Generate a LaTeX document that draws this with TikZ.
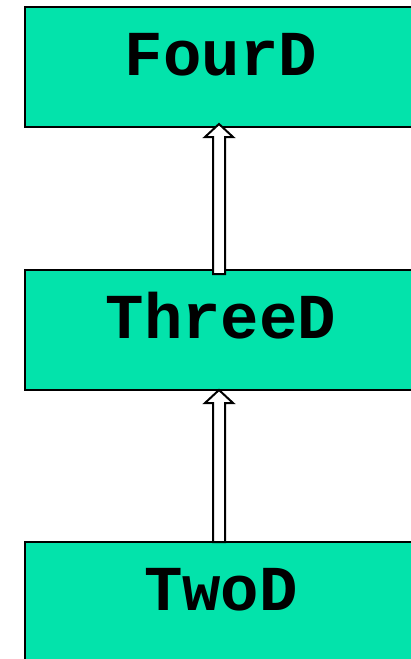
\documentclass[tikz,border=0pt]{standalone}
\usepackage{fontspec}
\setmonofont{Liberation Mono}
\usetikzlibrary{calc}
\definecolor{boxgreen}{RGB}{3,227,171}
\tikzset{
  classbox/.style={draw=black, line width=2pt, fill=boxgreen, rectangle,
    minimum width=392pt, minimum height=120pt, inner sep=0pt,
    text height=40pt, text depth=24pt,
    font=\ttfamily\bfseries\fontsize{64}{64}\selectfont},
  hollow/.style={draw=black, fill=white, line width=2pt, line join=miter}
}
\begin{document}
\begin{tikzpicture}[x=1pt,y=1pt]
\useasboundingbox (0,0) rectangle (411,-659);
\clip (0,0) rectangle (411,-659);
\node[classbox] (four) at (221,-67) {FourD};
\node[classbox] (three) at (221,-330) {ThreeD};
\node[classbox] (two) at (221,-602) {TwoD};
% arrow three -> four
\coordinate (t1) at ($(four.south)+(-2,4)$);
\coordinate (b1) at ($(three.north)+(-2,-5)$);
\draw[hollow] (t1) -- ($(t1)+(14,-13)$) -- ($(t1)+(6,-13)$) -- ($(b1)+(6,0)$)
  -- ($(b1)+(-6,0)$) -- ($(t1)+(-6,-13)$) -- ($(t1)+(-14,-13)$) -- cycle;
% arrow two -> three
\coordinate (t2) at ($(three.south)+(-2,1)$);
\coordinate (b2) at ($(two.north)+(-2,-1)$);
\draw[hollow] (t2) -- ($(t2)+(14,-13)$) -- ($(t2)+(6,-13)$) -- ($(b2)+(6,0)$)
  -- ($(b2)+(-6,0)$) -- ($(t2)+(-6,-13)$) -- ($(t2)+(-14,-13)$) -- cycle;
\end{tikzpicture}
\end{document}
